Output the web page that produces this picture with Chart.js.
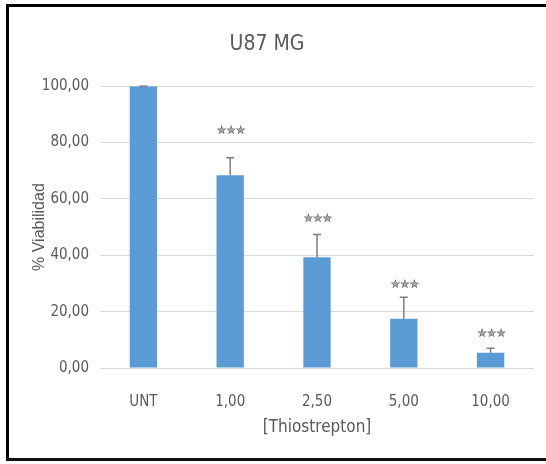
<!DOCTYPE html>
<html>
<head>
<meta charset="utf-8">
<script src="https://cdn.jsdelivr.net/npm/chart.js@4.4.1/dist/chart.umd.min.js"></script>
<style>
  html, body { margin: 0; padding: 0; background: #ffffff; overflow: hidden; }
  #wrap { position: relative; width: 546px; height: 464px; overflow: hidden; }
  #frame {
    position: absolute; left: 6px; top: 4px; width: 620px; height: 457px;
    border-top: 3px solid #000; border-left: 3px solid #000; border-bottom: 3px solid #111;
    border-right: none;
    box-sizing: border-box; pointer-events: none;
  }
  canvas { position: absolute; left: 0; top: 0; }
</style>
</head>
<body>
<div id="wrap">
  <canvas id="chart" width="546" height="464"></canvas>
  <div id="frame"></div>
</div>
<script>
// Thiostrepton dose response, U87 MG cells
const categories = ['UNT', '1,00', '2,50', '5,00', '10,00'];
const viability = [100, 68.4, 39.3, 17.5, 5.4];
const viabilityError = [0, 6.2, 8.1, 7.6, 1.6];
const significance = ['', '***', '***', '***', '***'];
const yTickLabels = ['0,00', '20,00', '40,00', '60,00', '80,00', '100,00'];

const NARROW = '"Liberation Sans Narrow", "DejaVu Sans Condensed", "Liberation Sans", sans-serif';
const TEXT = '#595959';

// Upper error bars plus significance stars above each bar
const errorBarPlugin = {
  id: 'errorBars',
  afterDatasetsDraw(chart, args, opts) {
    const ctx = chart.ctx;
    const meta = chart.getDatasetMeta(0);
    const y = chart.scales.y;
    ctx.save();
    meta.data.forEach((bar, i) => {
      const top = y.getPixelForValue(viability[i] + viabilityError[i]);
      const base = y.getPixelForValue(viability[i]);
      ctx.strokeStyle = '#7f7f7f';
      ctx.lineWidth = 1.5;
      ctx.beginPath();
      ctx.moveTo(bar.x, base);
      ctx.lineTo(bar.x, top);
      ctx.moveTo(bar.x - 4, top);
      ctx.lineTo(bar.x + 4, top);
      ctx.stroke();
      if (significance[i]) {
        const n = significance[i].length;
        const cy = top - opts.gaps[i];
        ctx.font = '12px "DejaVu Sans", sans-serif';
        ctx.textAlign = 'center';
        ctx.textBaseline = 'middle';
        for (let k = 0; k < n; k++) {
          const cx = bar.x + 1 + (k - (n - 1) / 2) * 9.5;
          ctx.fillStyle = '#a8a8a8';
          ctx.fillText('\u2605', cx, cy);
          ctx.fillStyle = '#3f3f3f';
          ctx.fillText('\u2606', cx, cy);
        }
      }
    });
    ctx.restore();
  }
};

new Chart(document.getElementById('chart'), {
  type: 'bar',
  data: {
    labels: categories,
    datasets: [{
      data: viability,
      backgroundColor: '#5b9bd5',
      borderWidth: 0,
      categoryPercentage: 1,
      barPercentage: 0.315
    }]
  },
  plugins: [errorBarPlugin],
  options: {
    responsive: false,
    animation: false,
    layout: { padding: { left: 0, right: 12, top: 10, bottom: 26 } },
    plugins: {
      legend: { display: false },
      tooltip: { enabled: false },
      title: {
        display: true,
        text: 'U87 MG',
        color: TEXT,
        font: { family: NARROW, size: 21, weight: 'normal' },
        padding: { top: 22, bottom: 29 }
      },
      errorBars: { gaps: [0, 27, 16, 12, 14] }
    },
    scales: {
      x: {
        grid: { display: false },
        border: { display: false },
        ticks: { color: TEXT, font: { family: NARROW, size: 15 }, padding: 17 },
        title: {
          display: true,
          text: '[Thiostrepton]',
          color: TEXT,
          font: { family: NARROW, size: 17 },
          padding: { top: 5, bottom: 0 }
        },
        afterFit(scale) { scale.height = 70; }
      },
      y: {
        min: 0,
        max: 100,
        ticks: {
          stepSize: 20,
          color: TEXT,
          padding: 11,
          font: { family: NARROW, size: 15 },
          callback: (v, i) => yTickLabels[i]
        },
        grid: { color: '#d9d9d9', lineWidth: 1, drawTicks: false },
        border: { display: false },
        title: {
          display: true,
          text: '% Viabilidad',
          color: TEXT,
          font: { family: '"Liberation Sans", Arial, sans-serif', size: 16 },
          padding: { top: 30, bottom: 0 }
        },
        afterFit(scale) { scale.width = 100; }
      }
    }
  }
});
</script>
</body>
</html>
